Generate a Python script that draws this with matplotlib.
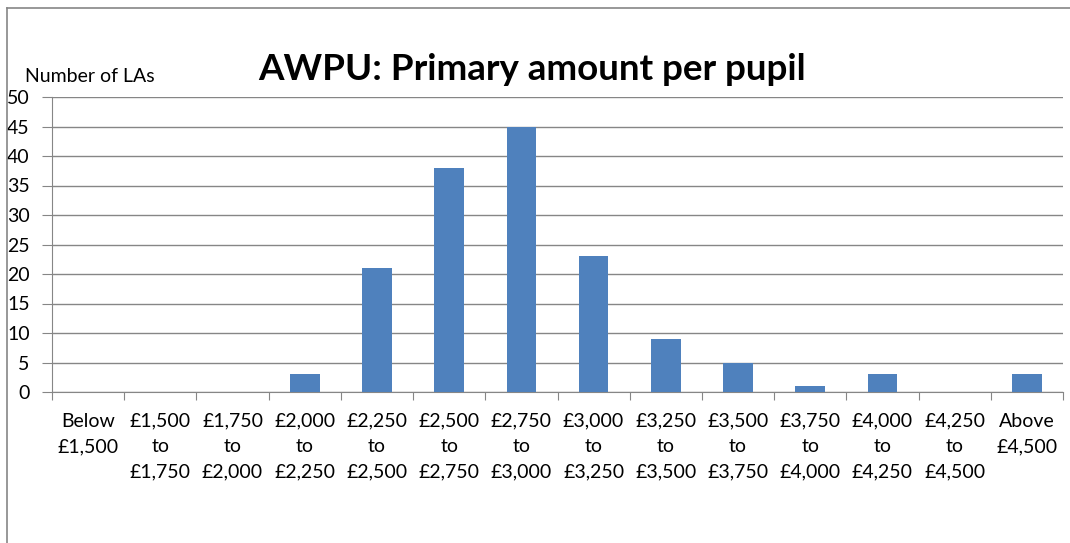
import matplotlib.pyplot as plt
from matplotlib.lines import Line2D
import numpy as np

categories = ['Below\n£1,500', '£1,500\nto\n£1,750', '£1,750\nto\n£2,000', '£2,000\nto\n£2,250',
              '£2,250\nto\n£2,500', '£2,500\nto\n£2,750', '£2,750\nto\n£3,000', '£3,000\nto\n£3,250',
              '£3,250\nto\n£3,500', '£3,500\nto\n£3,750', '£3,750\nto\n£4,000', '£4,000\nto\n£4,250',
              '£4,250\nto\n£4,500', 'Above\n£4,500']
counts = [0, 0, 0, 3, 21, 38, 45, 23, 9, 5, 1, 3, 0, 3]

plt.rcParams['font.family'] = ['Lato', 'DejaVu Sans']

fig = plt.figure(figsize=(10.7, 5.43), dpi=100)
ax = fig.add_axes([52 / 1070, 1 - 392 / 543, (1063 - 52) / 1070, (392 - 97) / 543])

x = np.arange(len(categories))
ax.bar(x, counts, width=0.41, color='#4F81BD', zorder=3)

ax.set_xlim(-0.5, len(categories) - 0.5)
ax.set_ylim(0, 50)
ax.set_yticks(range(0, 51, 5))
ax.yaxis.grid(True, color='#868686', linewidth=1)
ax.set_axisbelow(True)

ax.set_xticks(np.arange(-0.5, len(categories), 1))
ax.set_xticklabels([])
ax.set_xticks(x, minor=True)
ax.set_xticklabels(categories, minor=True, fontsize=14, linespacing=1.6, va='top')
ax.tick_params(axis='x', which='minor', length=0, pad=15)
ax.tick_params(axis='x', which='major', length=6, color='#868686', direction='out')
ax.tick_params(axis='y', length=7, color='#868686', labelsize=14, pad=9)

for s in ['top', 'right']:
    ax.spines[s].set_visible(False)
for s in ['left', 'bottom']:
    ax.spines[s].set_color('#868686')

fig.text(532 / 1070, 1 - 70 / 543, 'AWPU: Primary amount per pupil', ha='center', va='center',
         fontsize=26.5, fontweight='bold')
fig.text(25 / 1070, 1 - 76 / 543, 'Number of LAs', ha='left', va='center', fontsize=14)

# outer chart frame (only left and top edges visible)
fig.add_artist(Line2D([7 / 1070, 7 / 1070], [0, 1 - 8 / 543], transform=fig.transFigure,
                      color='#868686', linewidth=1.2))
fig.add_artist(Line2D([7 / 1070, 1], [1 - 8 / 543, 1 - 8 / 543], transform=fig.transFigure,
                      color='#868686', linewidth=1.2))

fig.savefig('out.png', dpi=100)
